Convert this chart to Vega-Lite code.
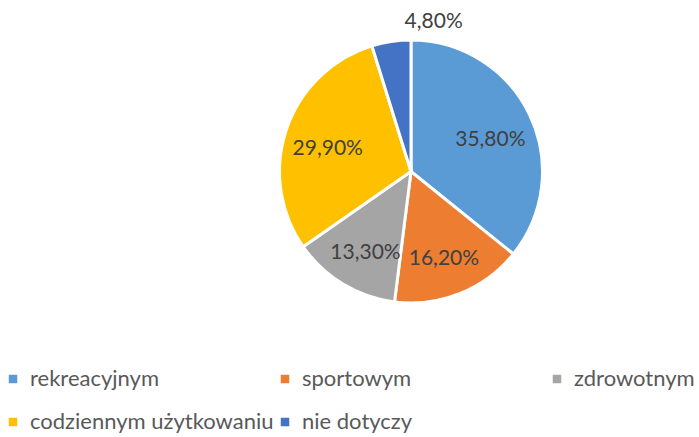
{
  "$schema": "https://vega.github.io/schema/vega-lite/v6.json",
  "width": 264,
  "height": 263,
  "autosize": {"type": "none"},
  "padding": {"left": 279, "top": 40, "right": 156, "bottom": 134},
  "background": "white",
  "config": {"view": {"stroke": null}, "font": "Lato"},
  "data": {"values": [
    {"kategoria": "rekreacyjnym", "udzial": 35.8, "etykieta": "35,80%", "k": 1, "wew": true},
    {"kategoria": "sportowym", "udzial": 16.2, "etykieta": "16,20%", "k": 2, "wew": true},
    {"kategoria": "zdrowotnym", "udzial": 13.3, "etykieta": "13,30%", "k": 3, "wew": true},
    {"kategoria": "codziennym użytkowaniu", "udzial": 29.9, "etykieta": "29,90%", "k": 4, "wew": true},
    {"kategoria": "nie dotyczy", "udzial": 4.8, "etykieta": "4,80%", "k": 5, "wew": false}
  ]},
  "encoding": {
    "theta": {"field": "udzial", "type": "quantitative", "stack": true},
    "order": {"field": "k", "type": "quantitative"}
  },
  "layer": [
    {
      "mark": {"type": "arc", "stroke": "white", "strokeWidth": 3},
      "encoding": {
        "color": {
          "field": "kategoria", "type": "nominal",
          "scale": {
            "domain": ["rekreacyjnym", "sportowym", "zdrowotnym", "codziennym użytkowaniu", "nie dotyczy"],
            "range": ["#5B9BD5", "#ED7D31", "#A5A5A5", "#FFC000", "#4472C4"]
          },
          "legend": {
            "title": null,
            "orient": "none",
            "legendX": -277,
            "legendY": 328,
            "direction": "horizontal",
            "columns": 3,
            "gridAlign": "all",
            "columnPadding": 0,
            "rowPadding": 21,
            "symbolType": "square",
            "symbolSize": 72,
            "symbolStrokeWidth": 0,
            "labelFontSize": 22,
            "labelFont": "Lato",
            "labelColor": "#595959",
            "labelOffset": 6,
            "labelLimit": 400
          }
        }
      }
    },
    {
      "transform": [{"filter": "datum.wew"}],
      "mark": {"type": "text", "radius": 88, "dy": 6, "fontSize": 21, "color": "#404040", "font": "Lato"},
      "encoding": {"text": {"field": "etykieta"}}
    },
    {
      "transform": [{"filter": "!datum.wew"}],
      "mark": {"type": "text", "radius": 151, "fontSize": 21, "color": "#404040", "font": "Lato"},
      "encoding": {"text": {"field": "etykieta"}}
    }
  ]
}
